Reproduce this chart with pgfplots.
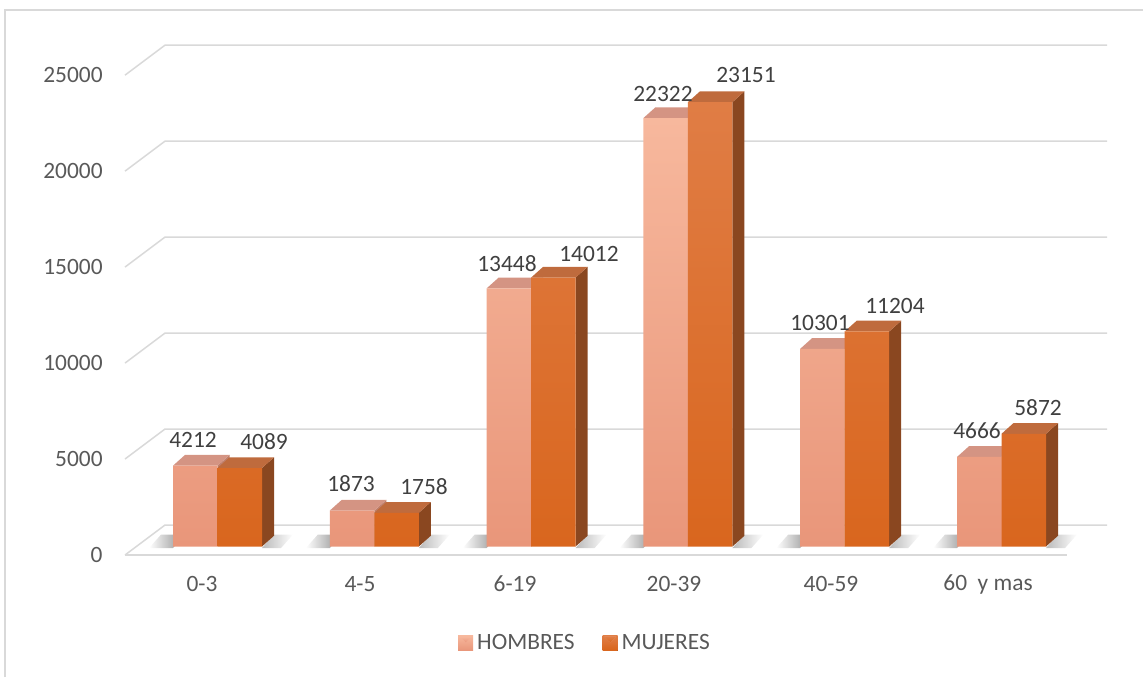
\documentclass[border=0pt]{standalone}
\usepackage{pgfplots}
\pgfplotsset{compat=1.18}
\usepackage{pgfplotstable}
\usepackage{fontspec}
\setmainfont{Carlito}

\definecolor{gridc}{HTML}{D9D9D9}
\definecolor{txt}{HTML}{595959}
\definecolor{lab}{HTML}{404040}
\definecolor{hfrontT}{HTML}{F7B89D}
\definecolor{hfrontB}{HTML}{E9967A}
\definecolor{htop}{HTML}{D49483}
\definecolor{hside}{HTML}{C0806C}
\definecolor{mfrontT}{HTML}{E07D45}
\definecolor{mfrontB}{HTML}{D9661E}
\definecolor{mtop}{HTML}{BF6B3D}
\definecolor{mside}{HTML}{8A4720}
\definecolor{shd}{HTML}{8C8C8C}

% x: centre of front face (px), y: value, lx/ly: label position
\pgfplotstableread{
x       y     lx    ly
195.25  4212  193   5549
352.05  1873  351   3256
508.85  13448 507   14718
665.65  22322 663   23601
822.45  10301 820   11644
979.25  4666  977   6018
}\hombres
\pgfplotstableread{
x       y     lx    ly
239.75  4089  264   5444
396.55  1758  424   3100
553.35  14012 589   15239
710.15  23151 746   24565
866.95  11204 895   12530
1023.75 5872  1038  7216
}\mujeres
% value axis labels (position on the front-left edge of the wall)
\pgfplotstableread{
x   y      lab
103 -443   0
103 4557   5000
103 9557   10000
103 14557  15000
103 19557  20000
103 24557  25000
}\yticks

% top and side faces of a 3D bar: #1 left x of front face, #2 value, #3 top colour, #4 side colour
\newcommand\barfaces[4]{%
  \edef\tmp{\noexpand\addplot[draw=none, fill=#4, forget plot] coordinates {(\fpeval{#1+44.5},0) (\fpeval{#1+56.5},560) (\fpeval{#1+56.5},\fpeval{#2+560}) (\fpeval{#1+44.5},#2)};
  \noexpand\addplot[draw=none, fill=#3, forget plot] coordinates {(#1,#2) (\fpeval{#1+44.5},#2) (\fpeval{#1+56.5},\fpeval{#2+560}) (\fpeval{#1+12},\fpeval{#2+560})};}%
  \tmp}

% soft floor shadow beside a pair of bars: #1 left x of the pair
\newcommand\shadow[1]{%
  \edef\tmp{\noexpand\addplot[draw=none, left color=white, right color=shd, forget plot] coordinates {(\fpeval{#1-24},-80) (#1,-80) (\fpeval{#1+12},620) (\fpeval{#1-12},620)};
  \noexpand\addplot[draw=none, left color=shd!60!white, right color=white, forget plot] coordinates {(\fpeval{#1+89},-80) (\fpeval{#1+108},-80) (\fpeval{#1+120},620) (\fpeval{#1+101},620)};}%
  \tmp}

\newcommand\gridline[1]{%
  \edef\tmp{\noexpand\addplot[draw=gridc, line width=0.75pt, forget plot] coordinates {(125,\fpeval{#1-443}) (165,\fpeval{#1+1120}) (1107,\fpeval{#1+1120})};}%
  \tmp}

\begin{document}
\begin{tikzpicture}[font=\fontsize{11.7}{14}\selectfont]
\begin{axis}[
  scale only axis, width=571.5pt, height=338.5pt,
  xmin=0, xmax=1143, ymin=-6799, ymax=28473,
  axis line style={draw=none}, major tick length=0pt, tick style={draw=none},
  ytick=\empty,
  xtick={202,360,515,674,831,988},
  xticklabels={0-3,4-5,6-19,20-39,40-59,60\ \ y mas},
  xticklabel style={anchor=center, inner sep=0pt, yshift=46.5pt, text=txt},
  legend columns=2,
  legend style={draw=none, fill=none, at={(axis cs:586,-5028)}, anchor=center,
    text=txt, /tikz/every even column/.append style={column sep=12pt}},
]
% frame
\addplot[draw=gridc, line width=0.75pt, forget plot] coordinates {(5,-6799) (5,27952) (1143,27952)};
% gridlines
\gridline{0}\gridline{5000}\gridline{10000}\gridline{15000}\gridline{20000}\gridline{25000}
% floor front edge
\addplot[draw=gridc, line width=1.2pt, forget plot] coordinates {(125,-443) (1067,-443)};
% value labels
\addplot[draw=none, forget plot, point meta=explicit symbolic, nodes near coords={\pgfplotspointmeta},
  every node near coord/.append style={anchor=east, inner sep=0pt, text=txt}]
  table[x=x, y=y, meta=lab] {\yticks};

% floor shadows
\shadow{173}\shadow{329.8}\shadow{486.6}\shadow{643.4}\shadow{800.2}\shadow{957}

% HOMBRES
\barfaces{173}{4212}{htop}{hside}
\barfaces{329.8}{1873}{htop}{hside}
\barfaces{486.6}{13448}{htop}{hside}
\barfaces{643.4}{22322}{htop}{hside}
\barfaces{800.2}{10301}{htop}{hside}
\barfaces{957}{4666}{htop}{hside}
\addplot[ybar, bar width=44.5, bar shift=0pt, draw=none, top color=hfrontT, bottom color=hfrontB,
  legend image code/.code={%
    \fill[hfrontB] (0pt,-3.75pt) rectangle (7.5pt,3.75pt);
    \fill[hfrontT] (0.8pt,3.2pt) -- (3.75pt,0.3pt) -- (6.7pt,3.2pt) -- cycle;}]
  table[x=x, y=y] {\hombres};
\addlegendentry{HOMBRES}

% MUJERES
\barfaces{217.5}{4089}{mtop}{mside}
\barfaces{374.3}{1758}{mtop}{mside}
\barfaces{531.1}{14012}{mtop}{mside}
\barfaces{687.9}{23151}{mtop}{mside}
\barfaces{844.7}{11204}{mtop}{mside}
\barfaces{1001.5}{5872}{mtop}{mside}
\addplot[ybar, bar width=44.5, bar shift=0pt, draw=none, top color=mfrontT, bottom color=mfrontB,
  legend image code/.code={%
    \fill[mside] (0pt,-3.75pt) rectangle (7.5pt,3.75pt);
    \fill[mfrontB] (0.8pt,-3.2pt) rectangle (6.7pt,3.2pt);
    \fill[mfrontT!70!white] (0.8pt,3.2pt) -- (3.75pt,0.3pt) -- (6.7pt,3.2pt) -- cycle;}]
  table[x=x, y=y] {\mujeres};
\addlegendentry{MUJERES}

% data labels
\addplot[draw=none, forget plot, point meta=explicit symbolic, nodes near coords={\pgfplotspointmeta},
  every node near coord/.append style={anchor=center, inner sep=0pt, text=lab}]
  table[x=lx, y=ly, meta=y] {\hombres};
\addplot[draw=none, forget plot, point meta=explicit symbolic, nodes near coords={\pgfplotspointmeta},
  every node near coord/.append style={anchor=center, inner sep=0pt, text=lab}]
  table[x=lx, y=ly, meta=y] {\mujeres};
\end{axis}
\end{tikzpicture}
\end{document}
